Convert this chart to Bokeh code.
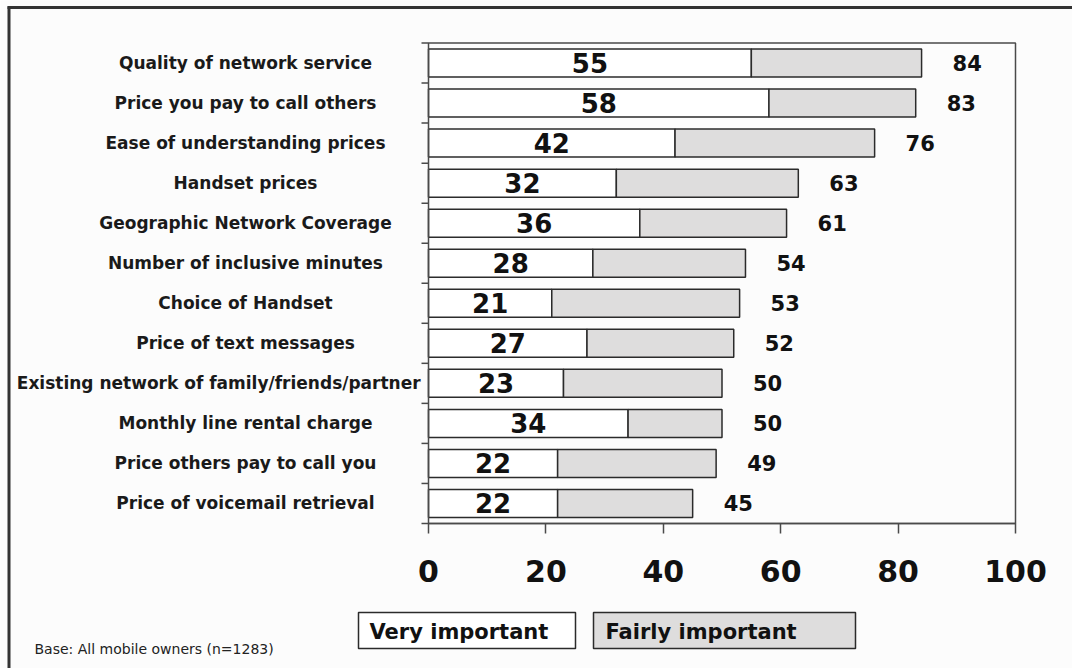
from bokeh.plotting import figure
from bokeh.models import ColumnDataSource, Range1d, LinearAxis, FixedTicker
from bokeh.core.properties import value
from bokeh.embed import file_html
from bokeh.resources import INLINE

# ---------------- data ----------------
categories = [
    "Quality of network service",
    "Price you pay to call others",
    "Ease of understanding prices",
    "Handset prices",
    "Geographic Network Coverage",
    "Number of inclusive minutes",
    "Choice of Handset",
    "Price of text messages",
    "Existing network of family/friends/partner",
    "Monthly line rental charge",
    "Price others pay to call you",
    "Price of voicemail retrieval",
]
very_important = [55, 58, 42, 32, 36, 28, 21, 27, 23, 34, 22, 22]
total_important = [84, 83, 76, 63, 61, 54, 53, 52, 50, 50, 49, 45]
x_ticks = [0, 20, 40, 60, 80, 100]
legend_labels = ["Very important", "Fairly important"]
base_note = "Base: All mobile owners (n=1283)"

# ---------------- layout constants ----------------
W, H = 1072, 668
X0_PX, X100_PX = 428, 1015
TOP_PX, BOT_PX = 42.5, 523
n = len(categories)
ppu = (X100_PX - X0_PX) / 100.0
x_start = -X0_PX / ppu
x_end = x_start + W / ppu
row_px = (BOT_PX - TOP_PX) / n
y_top = -0.5 - TOP_PX / row_px
y_bot = n - 0.5 + (H - BOT_PX) / row_px


def px_x(px):
    return x_start + px / ppu


def px_y(py):
    return y_top + py / row_px


FONT = value("DejaVu Sans")
DARK = "#2b2b2b"
LINE = "#4a4a4a"
GREY = "#dedddd"
BG = "#fcfcfc"

p = figure(width=W, height=H, x_range=Range1d(x_start, x_end),
           y_range=Range1d(y_bot, y_top), output_backend="svg",
           toolbar_location=None, min_border=0,
           x_axis_location=None, y_axis_location=None)
p.xgrid.visible = False
p.ygrid.visible = False
p.outline_line_color = None
p.background_fill_color = BG
p.border_fill_color = BG

idx = list(range(n))


def label_offset(lbl):
    w = len(lbl) * 9.8
    center = min(245.0, 424.0 - w / 2.0)
    return center - X0_PX


src = ColumnDataSource(dict(
    y=idx,
    cat=categories,
    very=very_important,
    total=total_important,
    very_mid=[v / 2.0 for v in very_important],
    very_txt=[str(v) for v in very_important],
    total_txt=[str(t) for t in total_important],
    cat_off=[label_offset(c) for c in categories],
))

# bars
p.hbar(y="y", left=0, right="very", height=0.7, source=src,
       fill_color="white", line_color=DARK, line_width=1.5)
p.hbar(y="y", left="very", right="total", height=0.7, source=src,
       fill_color=GREY, line_color=DARK, line_width=1.5)

# plot box (left axis line, top line, right border)
p.quad(left=0, right=100, top=-0.5, bottom=n - 0.5, fill_color=None,
       line_color=LINE, line_width=1.5)

# left ticks at category boundaries
bounds_y = [i - 0.5 for i in range(n + 1)]
p.segment(x0=[-7 / ppu] * len(bounds_y), x1=[0] * len(bounds_y),
          y0=bounds_y, y1=bounds_y, line_color=LINE, line_width=1.5)

# value labels
p.text(x="very_mid", y="y", text="very_txt", source=src, text_font=FONT,
       text_font_style="bold", text_font_size="26px", text_align="center",
       text_baseline="middle", text_color="#111111")
p.text(x="total", y="y", text="total_txt", source=src, x_offset=31,
       text_font=FONT, text_font_style="bold", text_font_size="21px",
       text_align="left", text_baseline="middle", text_color="#111111")

# category labels
p.text(x=0, y="y", text="cat", source=src, x_offset="cat_off",
       text_font=FONT, text_font_style="bold", text_font_size="17px",
       text_align="center", text_baseline="middle", text_color="#1a1a1a")

# x axis
xaxis = LinearAxis(fixed_location=n - 0.5, ticker=FixedTicker(ticks=x_ticks),
                   bounds=(0, 100))
xaxis.axis_line_color = LINE
xaxis.axis_line_width = 1.5
xaxis.major_tick_line_color = LINE
xaxis.major_tick_line_width = 1.5
xaxis.major_tick_out = 10
xaxis.major_tick_in = 0
xaxis.minor_tick_line_color = None
xaxis.major_label_text_font = "DejaVu Sans"
xaxis.major_label_text_font_style = "bold"
xaxis.major_label_text_font_size = "30px"
xaxis.major_label_text_color = "#111111"
xaxis.major_label_standoff = 26
p.add_layout(xaxis, "below")

# legend boxes
leg_left = [px_x(358), px_x(593)]
leg_right = [px_x(575), px_x(855)]
p.quad(left=leg_left, right=leg_right, top=[px_y(612)] * 2,
       bottom=[px_y(648)] * 2, fill_color=["white", GREY],
       line_color=DARK, line_width=1.5)
p.text(x=[px_x(369), px_x(605)], y=[px_y(631)] * 2, text=legend_labels,
       text_font=FONT, text_font_style="bold", text_font_size="21px",
       text_align="left", text_baseline="middle", text_color="#111111")

# base note
p.text(x=[px_x(34)], y=[px_y(648)], text=[base_note], text_font=FONT,
       text_font_size="14px", text_align="left", text_baseline="middle",
       text_color="#222222")

# outer frame (left and top)
p.segment(x0=[px_x(8.5), px_x(7)], x1=[px_x(8.5), px_x(W)],
          y0=[px_y(6), px_y(7)], y1=[px_y(H), px_y(7)],
          line_color="#333333", line_width=3)

open("out.html", "w").write(file_html(p, INLINE))
